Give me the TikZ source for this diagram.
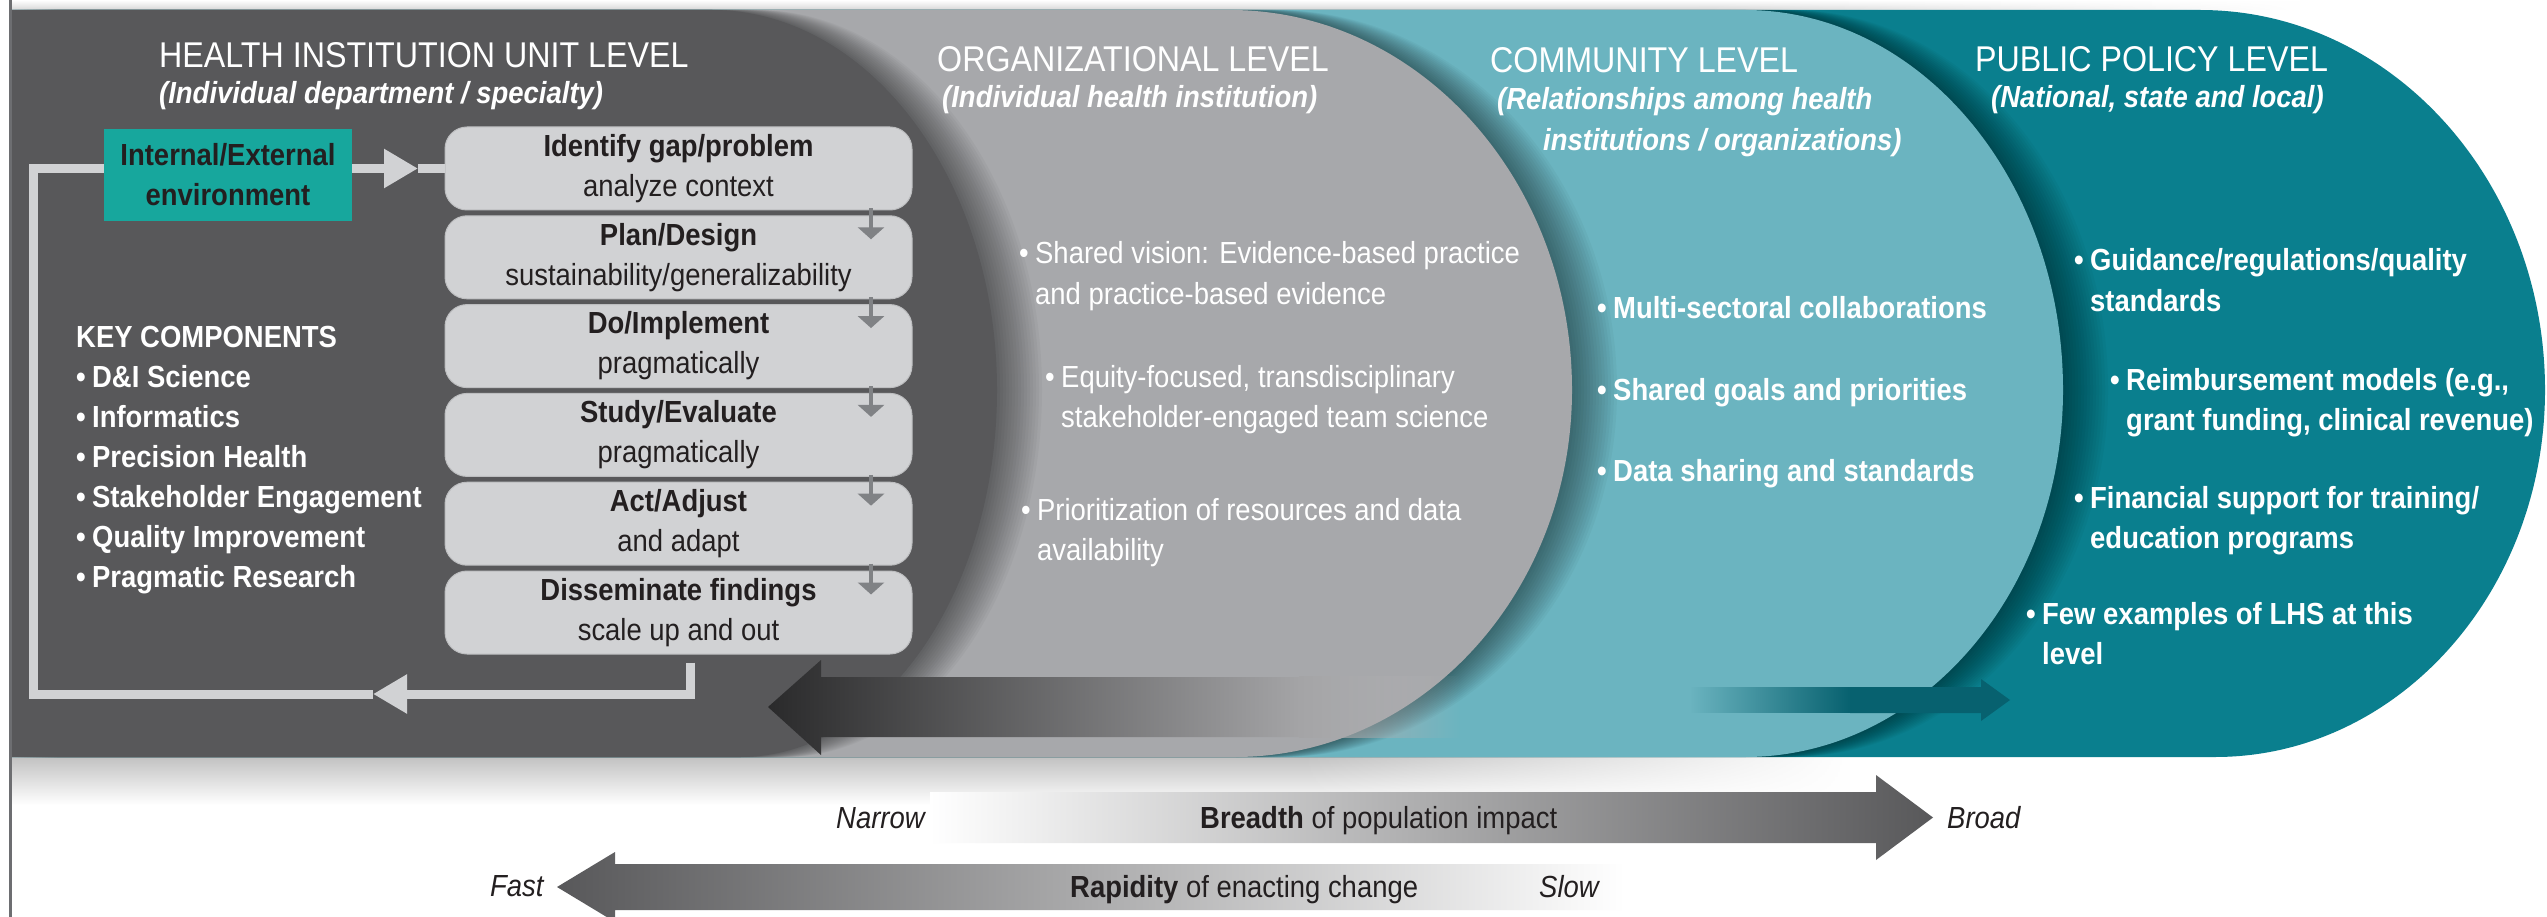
\documentclass[tikz,border=0pt]{standalone}
\usepackage{fontspec}
\setmainfont{Liberation Sans}[FakeStretch=0.9]
\usetikzlibrary{arrows.meta,fadings}
\definecolor{cDark}{HTML}{58585A}
\definecolor{cGray}{HTML}{A7A8AB}
\definecolor{cComm}{HTML}{6BB4C0}
\definecolor{cPub}{HTML}{0A7F8E}
\definecolor{cEnv}{HTML}{17A79D}
\definecolor{cBox}{HTML}{D1D2D4}
\definecolor{cBoxLine}{HTML}{BDBEC0}
\definecolor{cSmall}{HTML}{808285}
\definecolor{cInk}{HTML}{231F20}
\definecolor{cArrDark}{HTML}{2A2A2B}
\definecolor{cArrMid}{HTML}{A4A4A6}
\definecolor{cArrEnd}{HTML}{B6B6B8}
\definecolor{cArrTeal}{HTML}{07616F}
\definecolor{cBorder}{HTML}{6D6E71}
\definecolor{cBot}{HTML}{58585A}
\tikzfading[name=fadeR, left color=transparent!0, right color=transparent!100]
\tikzfading[name=fadeL, left color=transparent!100, right color=transparent!0]
% #1 top start x, #2 horizontal radius, #3 bottom end x
\newcommand\lvlpath[3]{(12,10) -- (#1,10) .. controls ({#1+0.5523*#2},10) and ({#1+#2},180.1) .. ({#1+#2},390) .. controls ({#1+#2},592.7) and ({#3+0.5523*(#1+#2-#3)},757) .. (#3,757) -- (12,757) -- cycle}
\newcommand\bul{\makebox[16pt][l]{\textbullet}}
\newcommand\bitem[2]{\begin{tabular}[t]{@{}l@{}}\bul#1\\\hspace*{16pt}#2\end{tabular}}
\newcommand\bone[1]{\bul#1}
\begin{document}
\begin{tikzpicture}[x=1pt,y=-1pt,
  ttl/.style={font=\fontsize{35.8}{42}\selectfont, text=white, inner sep=0pt, anchor=base west},
  subt/.style={font=\fontsize{30.5}{40}\selectfont\bfseries\itshape, text=white, inner sep=0pt, anchor=base west},
  wb/.style={font=\fontsize{30.5}{40}\selectfont\bfseries, text=white, inner sep=0pt, anchor=base west},
  wr/.style={font=\fontsize{30.5}{40}\selectfont, text=white, inner sep=0pt, anchor=base west},
  lab/.style={font=\fontsize{30.5}{40}\selectfont, text=cInk, inner sep=0pt, anchor=base west},
  stepbox/.style={rectangle, rounded corners=22pt, fill=cBox, draw=cBoxLine, line width=1pt,
    minimum width=467pt, minimum height=83pt, inner sep=0pt, align=center, text=cInk,
    font=\fontsize{30.5}{40}\selectfont},
  envbox/.style={rectangle, fill=cEnv, minimum width=248pt, minimum height=92pt, inner sep=0pt,
    align=center, text=cInk, font=\fontsize{30.5}{40}\selectfont\bfseries},
  loopline/.style={draw=cBox, line width=9pt, line join=miter},
  looptip/.style={-{Triangle[width=37pt,length=34pt]}},
  smallarr/.style={draw=cSmall, line width=4.5pt, -{Triangle[width=26pt,length=12pt]}},
  shadowcopy/.style={fill=black, opacity=0.03}
]
\useasboundingbox (0,0) rectangle (2547,917);
\clip (0,0) rectangle (2547,917);
\fill[white] (0,0) rectangle (2547,917);
% top and bottom shadows
\shade[top color=white, bottom color=black!16] (12,0) rectangle (1700,10);
\shade[top color=white, bottom color=black!16, path fading=fadeR] (1700,0) rectangle (2300,10);
\shade[top color=black!24, bottom color=white] (12,757) rectangle (1300,805);
\shade[top color=black!24, bottom color=white, path fading=fadeR] (1300,757) rectangle (1850,805);
% left border
\draw[cBorder, line width=3pt] (10.5,0) -- (10.5,917);
% level shapes
\begin{scope}
  \clip (12,10) rectangle (2547,757);
  \fill[cPub] \lvlpath{2200}{345}{2215};
  \foreach \s in {3,6,...,45} {\fill[shadowcopy, shift={(\s,0)}] \lvlpath{1745}{318}{1745};}
  \fill[cComm] \lvlpath{1745}{318}{1745};
  \foreach \s in {3,6,...,45} {\fill[shadowcopy, shift={(\s,0)}] \lvlpath{1230}{342}{1235};}
  \fill[cGray] \lvlpath{1230}{342}{1235};
  \foreach \s in {3,6,...,45} {\fill[shadowcopy, shift={(\s,0)}] \lvlpath{712}{285}{740};}
  \fill[cDark] \lvlpath{712}{285}{740};
\end{scope}
% titles
\node[ttl] (tUnit) at (159,68) {HEALTH INSTITUTION UNIT LEVEL};
\node[subt] (sUnit) at (159,104) {(Individual department / specialty)};
\node[ttl] (tOrg) at (937,72) {ORGANIZATIONAL LEVEL};
\node[subt] (sOrg) at (942,108) {(Individual health institution)};
\node[ttl] (tCom) at (1490,73) {COMMUNITY LEVEL};
\node[subt] (sCom1) at (1497,110) {(Relationships among health};
\node[subt] (sCom2) at (1543,151) {institutions / organizations)};
\node[ttl] (tPub) at (1975,72) {PUBLIC POLICY LEVEL};
\node[subt] (sPub) at (1991,108) {(National, state and local)};
% step boxes
\node[stepbox] (box1) at (678.5,168.5) {\textbf{Identify gap/problem}\\analyze context};
\node[stepbox] (box2) at (678.5,257.3) {\textbf{Plan/Design}\\sustainability/generalizability};
\node[stepbox] (box3) at (678.5,346.1) {\textbf{Do/Implement}\\pragmatically};
\node[stepbox] (box4) at (678.5,434.9) {\textbf{Study/Evaluate}\\pragmatically};
\node[stepbox] (box5) at (678.5,523.7) {\textbf{Act/Adjust}\\and adapt};
\node[stepbox] (box6) at (678.5,612.5) {\textbf{Disseminate findings}\\scale up and out};
% feedback loop
\coordinate (loopBL) at (33.5,694);
\coordinate (tipB) at (373,694);
\coordinate (tipT) at (418,168.5);
\draw[loopline, looptip] ([xshift=11.5pt,yshift=-8pt]box6.south) |- (tipB);
\draw[loopline, looptip] (tipB) -- (loopBL) |- (tipT);
\draw[loopline] (tipT) -- (box1.west);
\node[envbox] (env) at (228,175) {Internal/External\\environment};
% small arrows between steps
\foreach \i/\j in {1/2,2/3,3/4,4/5,5/6} {
  \draw[smallarr] ([xshift=192.5pt,yshift=2pt]box\i.south) -- ([xshift=192.5pt,yshift=-24pt]box\j.north);
}
% key components
\node[wb] (kc) at (76,347) {KEY COMPONENTS};
\node[wb] (kl) at (76,387) {\begin{tabular}[t]{@{}l@{}}\bul D\&I Science\\\bul Informatics\\\bul Precision Health\\\bul Stakeholder Engagement\\\bul Quality Improvement\\\bul Pragmatic Research\end{tabular}};
% organizational
\node[wr] (o1) at (1019,264) {\bitem{Shared vision: Evidence-based practice}{and practice-based evidence}};
\node[wr] (o2) at (1045,387) {\bitem{Equity-focused, transdisciplinary}{stakeholder-engaged team science}};
\node[wr] (o3) at (1021,520) {\bitem{Prioritization of resources and data}{availability}};
% community
\node[wb] (c1) at (1597,318) {\bone{Multi-sectoral collaborations}};
\node[wb] (c2) at (1597,400) {\bone{Shared goals and priorities}};
\node[wb] (c3) at (1597,481) {\bone{Data sharing and standards}};
% public policy
\node[wb] (p1) at (2074,271) {\bitem{Guidance/regulations/quality}{standards}};
\node[wb] (p2) at (2110,390) {\bitem{Reimbursement models (e.g.,}{grant funding, clinical revenue)}};
\node[wb] (p3) at (2074,508) {\bitem{Financial support for training/}{education programs}};
\node[wb] (p4) at (2026,624) {\bitem{Few examples of LHS at this}{level}};
% big arrows inside panel
\shade[left color=cArrDark, right color=cArrMid] (821,660) -- (768,707) -- (821,755) -- (821,737) -- (1300,737) -- (1300,677) -- (821,677) -- cycle;
\shade[left color=cArrMid, right color=cArrEnd, path fading=fadeR] (1299,677) rectangle (1460,737);
\fill[cArrTeal, path fading=fadeL] (1690,687) rectangle (1851,713);
\fill[cArrTeal] (1850,687) -- (1981,687) -- (1981,679) -- (2010,700) -- (1981,721) -- (1981,713) -- (1850,713) -- cycle;
% bottom arrows
\shade[left color=white, right color=cBot] (930,792) -- (1876,792) -- (1876,775) -- (1933,817.5) -- (1876,860) -- (1876,843) -- (930,843) -- cycle;
\shade[left color=cBot, right color=white] (615,852) -- (557,887) -- (615,922) -- (615,910) -- (1625,910) -- (1625,864) -- (615,864) -- cycle;
\node[lab] (narrow) at (836,828) {\itshape Narrow};
\node[lab] (breadth) at (1200,828) {\textbf{Breadth} of population impact};
\node[lab] (broad) at (1947,828) {\itshape Broad};
\node[lab] (fast) at (490,896) {\itshape Fast};
\node[lab] (rapid) at (1070,897) {\textbf{Rapidity} of enacting change};
\node[lab] (slow) at (1539,897) {\itshape Slow};
\end{tikzpicture}
\end{document}
